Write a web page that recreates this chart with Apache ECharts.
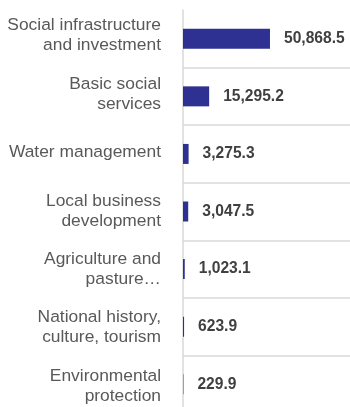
<!DOCTYPE html>
<html>
<head>
<meta charset="utf-8">
<script src="https://cdn.jsdelivr.net/npm/echarts@6/dist/echarts.min.js"></script>
<style>
  html, body { margin: 0; padding: 0; background: #ffffff; }
  #chart { width: 350px; height: 407px; }
</style>
</head>
<body>
<div id="chart"></div>
<script>
// Spending by sector, largest first
const categories = [
  'Social infrastructure\nand investment',
  'Basic social\nservices',
  'Water management',
  'Local business\ndevelopment',
  'Agriculture and\npasture…',
  'National history,\nculture, tourism',
  'Environmental\nprotection'
];
const values = [50868.5, 15295.2, 3275.3, 3047.5, 1023.1, 623.9, 229.9];

const fmt = v => v.toLocaleString('en-US', { minimumFractionDigits: 1, maximumFractionDigits: 1 });
const FONT = 'Arial, "Liberation Sans", sans-serif';

const chart = echarts.init(document.getElementById('chart'), null, { renderer: 'canvas' });
chart.setOption({
  animation: false,
  backgroundColor: '#ffffff',
  grid: [
    // plot area: bars, axis line and row separators
    { left: 183, top: 10, width: 171, height: 403, outerBoundsMode: 'none', containLabel: false },
    // category names, spaced a little wider than the rows
    { left: 183, top: 6.5, width: 171, height: 408.8, outerBoundsMode: 'none', containLabel: false }
  ],
  xAxis: [
    { type: 'value', gridIndex: 0, min: 0, max: 100000, show: false },
    { type: 'value', gridIndex: 1, min: 0, max: 100000, show: false }
  ],
  yAxis: [
    {
      type: 'category',
      gridIndex: 0,
      data: categories,
      inverse: true,
      axisLine: { show: true, lineStyle: { color: '#d9d9d9', width: 1.5 } },
      axisTick: { show: false },
      axisLabel: { show: false },
      splitLine: {
        show: true,
        interval: (index) => index > 0,
        lineStyle: { color: '#d9d9d9', width: 1.5 }
      }
    },
    {
      type: 'category',
      gridIndex: 1,
      data: categories,
      inverse: true,
      axisLine: { show: false },
      axisTick: { show: false },
      splitLine: { show: false },
      axisLabel: {
        color: '#595959',
        fontFamily: FONT,
        fontSize: 17.4,
        lineHeight: 20,
        margin: 22,
        align: 'right'
      }
    }
  ],
  series: [{
    type: 'bar',
    xAxisIndex: 0,
    yAxisIndex: 0,
    data: values,
    barWidth: 20,
    itemStyle: { color: '#2e3192' },
    label: {
      show: true,
      position: 'right',
      distance: 14,
      color: '#404040',
      fontFamily: FONT,
      fontWeight: 'bold',
      fontSize: 15.6,
      formatter: p => fmt(p.value)
    }
  }]
});
</script>
</body>
</html>
